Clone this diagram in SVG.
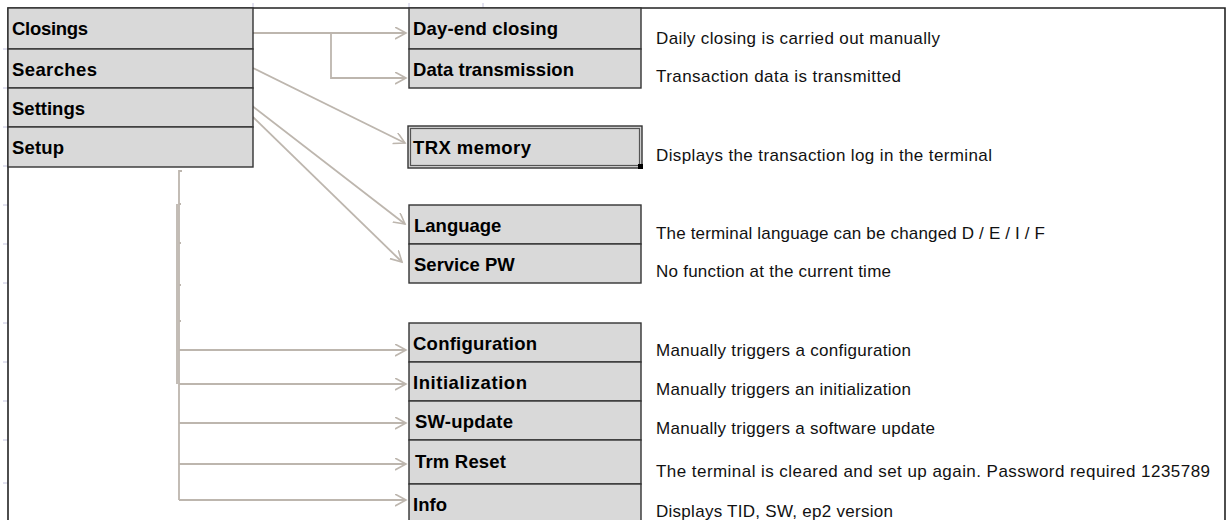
<svg xmlns="http://www.w3.org/2000/svg" width="1227" height="520" viewBox="0 0 1227 520">
<style>
.cell{fill:#d9d9d9;stroke:#333;stroke-width:1.4}
.lbl{font-family:"Liberation Sans",Arial,sans-serif;font-weight:bold;font-size:18.5px;fill:#000}
.desc{font-family:"Liberation Sans",Arial,sans-serif;font-size:17px;fill:#111}
.con{fill:none;stroke:#bdb6ae;stroke-width:1.8}
.tick{stroke:#c4c4e0;stroke-width:1}
.frame{fill:none;stroke:#222;stroke-width:1.6}
</style>
<defs>
<marker id="arr" markerUnits="userSpaceOnUse" markerWidth="14" markerHeight="14" refX="11" refY="6" orient="auto" viewBox="0 0 14 14">
<path d="M0,0 L11,6 L0,12" fill="none" stroke="#bdb6ae" stroke-width="1.6"/>
</marker>
</defs>
<rect width="1227" height="520" fill="#fff"/>
<g id="gridticks">
<path class="tick" d="M3,49H8M3,88H8M3,127H8M3,166H8M3,205H8M3,244H8M3,283H8M3,323H8M3,362H8M3,401H8M3,440H8M3,483H8M253,3V8M409,3V8M483,3V8"/>
</g>
<path class="frame" d="M8,520V8H1225V520"/>
<g id="connectors">
<path class="con" d="M253,33H406" marker-end="url(#arr)"/>
<path class="con" d="M331,33V78H406" marker-end="url(#arr)"/>
<path class="con" d="M253,68L405,143" marker-end="url(#arr)"/>
<path class="con" d="M251,105L405,224" marker-end="url(#arr)"/>
<path class="con" d="M253,117L402,262" marker-end="url(#arr)"/>
<path class="con" d="M182,171H179V500"/>
<path class="con" d="M177,204V384"/>
<path class="con" d="M179,204H181M179,243H181M179,285H181M179,321H181"/>
<path class="con" d="M179,350H406" marker-end="url(#arr)"/>
<path class="con" d="M179,384H406" marker-end="url(#arr)"/>
<path class="con" d="M179,423H406" marker-end="url(#arr)"/>
<path class="con" d="M179,464H406" marker-end="url(#arr)"/>
<path class="con" d="M179,500H406" marker-end="url(#arr)"/>
</g>
<g id="closings"><rect class="cell" x="8" y="8" width="245" height="41"/><text class="lbl" x="12" y="35" textLength="76">Closings</text></g>
<g id="searches"><rect class="cell" x="8" y="49" width="245" height="39"/><text class="lbl" x="12" y="76" textLength="85">Searches</text></g>
<g id="settings"><rect class="cell" x="8" y="88" width="245" height="39"/><text class="lbl" x="12" y="115" textLength="73">Settings</text></g>
<g id="setup"><rect class="cell" x="8" y="127" width="245" height="40"/><text class="lbl" x="12" y="154" textLength="52">Setup</text></g>

<g id="day-end-closing"><rect class="cell" x="409" y="8" width="232" height="41"/><text class="lbl" x="413" y="35" textLength="145">Day-end closing</text>
<text class="desc" x="656" y="44" textLength="284">Daily closing is carried out manually</text></g>
<g id="data-transmission"><rect class="cell" x="409" y="49" width="232" height="39"/><text class="lbl" x="413" y="76" textLength="161">Data transmission</text>
<text class="desc" x="656" y="82" textLength="245">Transaction data is transmitted</text></g>
<g id="trx-memory"><rect class="cell" x="408" y="126" width="234" height="42" stroke="#555"/><rect x="410.5" y="128.5" width="229" height="37" fill="none" stroke="#555" stroke-width="1.2"/><rect x="638" y="164" width="5" height="5" fill="#000"/><text class="lbl" x="413" y="154" textLength="118">TRX memory</text>
<text class="desc" x="656" y="161" textLength="336">Displays the transaction log in the terminal</text></g>
<g id="language"><rect class="cell" x="409" y="205" width="232" height="39"/><text class="lbl" x="414" y="232">Language</text>
<text class="desc" x="656" y="239" textLength="389">The terminal language can be changed D / E / I / F</text></g>
<g id="service-pw"><rect class="cell" x="409" y="244" width="232" height="39"/><text class="lbl" x="414" y="271">Service PW</text>
<text class="desc" x="656" y="277" textLength="235">No function at the current time</text></g>
<g id="configuration"><rect class="cell" x="409" y="323" width="232" height="39"/><text class="lbl" x="413" y="350" textLength="124">Configuration</text>
<text class="desc" x="656" y="356" textLength="255">Manually triggers a configuration</text></g>
<g id="initialization"><rect class="cell" x="409" y="362" width="232" height="39"/><text class="lbl" x="413" y="389" textLength="114">Initialization</text>
<text class="desc" x="656" y="395" textLength="255">Manually triggers an initialization</text></g>
<g id="sw-update"><rect class="cell" x="409" y="401" width="232" height="39"/><text class="lbl" x="415" y="428" textLength="98">SW-update</text>
<text class="desc" x="656" y="434" textLength="279">Manually triggers a software update</text></g>
<g id="trm-reset"><rect class="cell" x="409" y="440" width="232" height="44"/><text class="lbl" x="415" y="468" textLength="91">Trm Reset</text>
<text class="desc" x="656" y="477" textLength="554">The terminal is cleared and set up again. Password required 1235789</text></g>
<g id="info"><rect class="cell" x="409" y="484" width="232" height="40"/><text class="lbl" x="413" y="511" textLength="34">Info</text>
<text class="desc" x="656" y="517" textLength="237">Displays TID, SW, ep2 version</text></g>
</svg>
